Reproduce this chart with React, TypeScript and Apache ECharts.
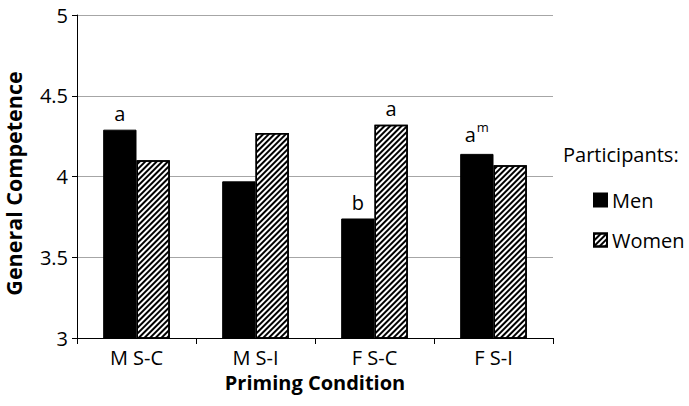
import React, { useEffect, useRef } from "react";
import * as echarts from "echarts";

const categories = ["M S-C", "M S-I", "F S-C", "F S-I"];
const menValues = [4.29, 3.97, 3.74, 4.14];
const womenValues = [4.1, 4.27, 4.32, 4.07];
const menLabels = ["a", "", "b", "{a|a}{sup|m}"];
const womenLabels = ["", "", "a", ""];
const yTicks = [3, 3.5, 4, 4.5, 5];

const FONT = "Open Sans";

export default function App() {
  const ref = useRef<HTMLDivElement>(null);
  useEffect(() => {
    if (!ref.current) return;
    const chart = echarts.init(ref.current, undefined, { renderer: "svg" });
    const hatch = {
      symbol: "rect",
      symbolSize: 1,
      dashArrayX: [1, 0],
      dashArrayY: [2, 2],
      rotation: -Math.PI / 4,
      color: "#000",
      backgroundColor: "#fff",
    };
    const labelBase = {
      show: true,
      position: "top" as const,
      distance: 6,
      fontFamily: FONT,
      fontSize: 20,
      color: "#000",
      rich: {
        a: { fontFamily: FONT, fontSize: 20, color: "#000" },
        sup: { fontFamily: FONT, fontSize: 13, color: "#000", padding: [0, 0, 14, 1] },
      },
    };
    chart.setOption({
      animation: false,
      textStyle: { fontFamily: FONT },
      grid: { left: 77, right: 136, top: 15, bottom: 68, containLabel: false, outerBoundsMode: "none" },
      graphic: [
        {
          type: "text",
          left: 563,
          top: 144,
          style: { text: "Participants:", fontFamily: FONT, fontSize: 20, fill: "#000" },
        },
      ],
      legend: {
        orient: "vertical",
        left: 588,
        top: 185,
        itemWidth: 13,
        itemHeight: 13,
        itemGap: 20,
        icon: "rect",
        textStyle: { fontFamily: FONT, fontSize: 20, color: "#000", padding: [0, 0, 0, 0] },
        data: ["Men", "Women"],
      },
      xAxis: {
        type: "category",
        data: categories,
        name: "Priming Condition",
        nameLocation: "middle",
        nameGap: 34,
        nameTextStyle: { fontFamily: FONT, fontSize: 20, fontWeight: "bold", color: "#000" },
        axisLine: { show: true, lineStyle: { color: "#000", width: 1 } },
        axisTick: { show: true, length: 6, lineStyle: { color: "#000" } },
        axisLabel: { fontFamily: FONT, fontSize: 20, color: "#000", margin: 9 },
      },
      yAxis: {
        type: "value",
        min: 3,
        max: 5,
        interval: 0.5,
        name: "General Competence",
        nameLocation: "middle",
        nameGap: 53,
        nameTextStyle: { fontFamily: FONT, fontSize: 21.5, fontWeight: "bold", color: "#000", padding: [0, 14, 0, 0] },
        axisLine: { show: true, lineStyle: { color: "#000", width: 1 } },
        axisTick: { show: true, length: 5, lineStyle: { color: "#000" } },
        axisLabel: {
          fontFamily: FONT,
          fontSize: 20,
          color: "#000",
          margin: 9,
          formatter: (v: number) => (yTicks.includes(v) ? String(v) : ""),
        },
        splitLine: { show: true, lineStyle: { color: "#a6a6a6", width: 1 } },
      },
      series: [
        {
          name: "Men",
          type: "bar",
          data: menValues,
          barGap: "0%",
          barCategoryGap: "44%",
          itemStyle: { color: "#000", borderColor: "#000", borderWidth: 1 },
          label: { ...labelBase, formatter: (p: any) => menLabels[p.dataIndex] },
        },
        {
          name: "Women",
          type: "bar",
          data: womenValues,
          itemStyle: { color: "#fff", borderColor: "#000", borderWidth: 1.5, decal: hatch },
          label: { ...labelBase, formatter: (p: any) => womenLabels[p.dataIndex] },
        },
      ],
    });
    return () => chart.dispose();
  }, []);
  return <div ref={ref} style={{ width: 689, height: 406, position: "absolute", left: 0, top: 0, background: "#fff" }} />;
}
